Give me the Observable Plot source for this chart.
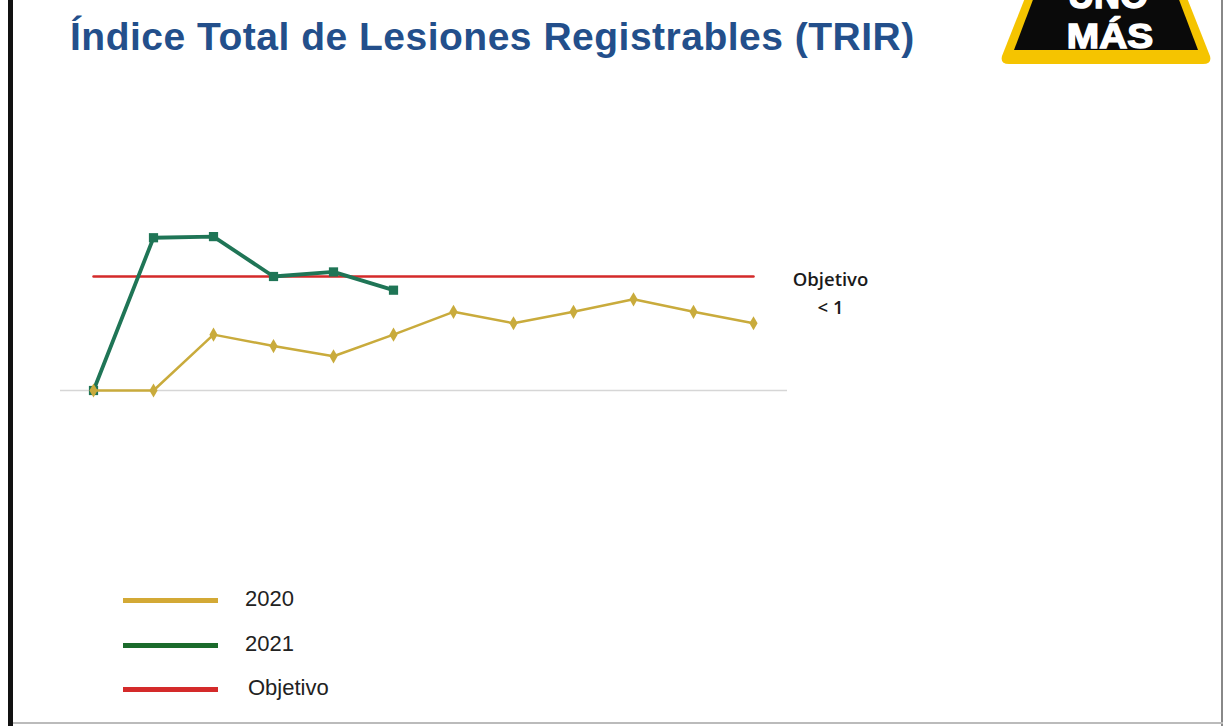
<!DOCTYPE html>
<html>
<head>
<meta charset="utf-8">
<script src="https://cdn.jsdelivr.net/npm/d3@7"></script>
<script src="https://cdn.jsdelivr.net/npm/@observablehq/plot@0.6"></script>
<style>
  html, body { margin: 0; padding: 0; background: #fff; }
  #page { position: relative; width: 1225px; height: 726px; overflow: hidden; background: #fff; font-family: "Liberation Sans", Arial, sans-serif; }
  #leftbar { position: absolute; left: 8px; top: 0; width: 5px; height: 726px; background: #111; }
  #rightbar { position: absolute; left: 1221px; top: 0; width: 2px; height: 726px; background: #888; }
  #bottombar { position: absolute; left: 13px; top: 722px; width: 1210px; height: 2px; background: #bbb; }
  #title { position: absolute; left: 70px; top: 15px; font-size: 39px; font-weight: bold; color: #234f8b; white-space: nowrap; letter-spacing: 0.5px; }
  #chart { position: absolute; left: 0; top: 0; }
  #logo { position: absolute; left: 1000px; top: -40px; width: 212px; height: 106px; }
  #legend { position: absolute; left: 123px; top: 580px; font-size: 22px; color: #222; }
  .item { position: absolute; left: 0; width: 300px; height: 40px; }
  .swatch { position: absolute; left: 0; top: 18px; width: 95px; height: 5px; }
  .lab { position: absolute; left: 122px; top: 6px; }
</style>
</head>
<body>
<div id="page">
  <div id="leftbar"></div>
  <div id="rightbar"></div>
  <div id="bottombar"></div>
  <div id="title">Índice Total de Lesiones Registrables (TRIR)</div>
  <svg id="logo" viewBox="0 0 212 106">
    <path d="M40 0 L172 0 L210 96 Q212 104 203 104 L9 104 Q0 104 2 96 Z" fill="#f5c400"/>
    <path d="M48 0 L164 0 L198 90 L14 90 Z" fill="#0a0a0a"/>
    <text x="108" y="48" text-anchor="middle" font-family="Liberation Sans, Arial" font-weight="bold" font-size="36" fill="#fff" stroke="#fff" stroke-width="1.5">UNO</text>
    <text x="110" y="88" text-anchor="middle" font-family="Liberation Sans, Arial" font-weight="bold" font-size="36" fill="#fff" stroke="#fff" stroke-width="1.5" transform="translate(110 0) scale(1.08 1) translate(-110 0)">MÁS</text>
  </svg>
  <div id="chart"></div>
  <div id="legend"></div>
</div>
<script>
const months = ["Ene","Feb","Mar","Abr","May","Jun","Jul","Ago","Sep","Oct","Nov","Dic"];
const values2020 = [0, 0, 0.49, 0.39, 0.30, 0.49, 0.69, 0.59, 0.69, 0.80, 0.69, 0.59];
const values2021 = [0, 1.34, 1.35, 1.0, 1.04, 0.88];
const objetivo = 1;
const objetivoLabel = ["Objetivo", "< 1"];
const seriesNames = ["2020", "2021", "Objetivo"];
const legendColors = ["#d3a935", "#1b6b2c", "#d42a2a"];

const d2020 = values2020.map((v, i) => ({month: months[i], value: v}));
const d2021 = values2021.map((v, i) => ({month: months[i], value: v}));
const dObj = months.map(m => ({month: m, value: objetivo}));

const gold = "#c9ab3c";
const green = "#1f7556";
const red = "#d42a2a";

const chart = Plot.plot({
  width: 1225,
  height: 726,
  marginLeft: 91,
  marginRight: 471,
  marginTop: 219,
  marginBottom: 336,
  x: {type: "point", domain: months, padding: 0, axis: null},
  y: {domain: [0, 1.5], axis: null},
  marks: [
    Plot.ruleY([0], {stroke: "#d6d6d6", strokeWidth: 1.5, insetLeft: -31, insetRight: -33}),
    Plot.line(dObj, {x: "month", y: "value", stroke: red, strokeWidth: 2.5}),
    Plot.line(d2021, {x: "month", y: "value", stroke: green, strokeWidth: 3.8}),
    Plot.dot(d2021, {x: "month", y: "value", symbol: "square", fill: green, r: 5.2}),
    Plot.line(d2020, {x: "month", y: "value", stroke: gold, strokeWidth: 2.5}),
    Plot.dot(d2020, {x: "month", y: "value", symbol: "diamond", fill: gold, r: 4.3}),
    Plot.text([objetivoLabel.join("\n")], {
      frameAnchor: "right", dx: 76, dy: -100 + 86, text: d => d,
      fontSize: 18.5, fontWeight: 600, fill: "#1a1a1a", lineHeight: 1.5,
      fontFamily: "'Open Sans', sans-serif", textAnchor: "middle"
    })
  ]
});
document.getElementById("chart").appendChild(chart);

const legend = document.getElementById("legend");
seriesNames.forEach((name, i) => {
  const item = document.createElement("div");
  item.className = "item";
  item.style.top = (i * 44.5) + "px";
  item.innerHTML = `<div class="swatch" style="background:${legendColors[i]}"></div><div class="lab" style="${i===2?'left:125px':''}">${name}</div>`;
  legend.appendChild(item);
});
</script>
</body>
</html>
